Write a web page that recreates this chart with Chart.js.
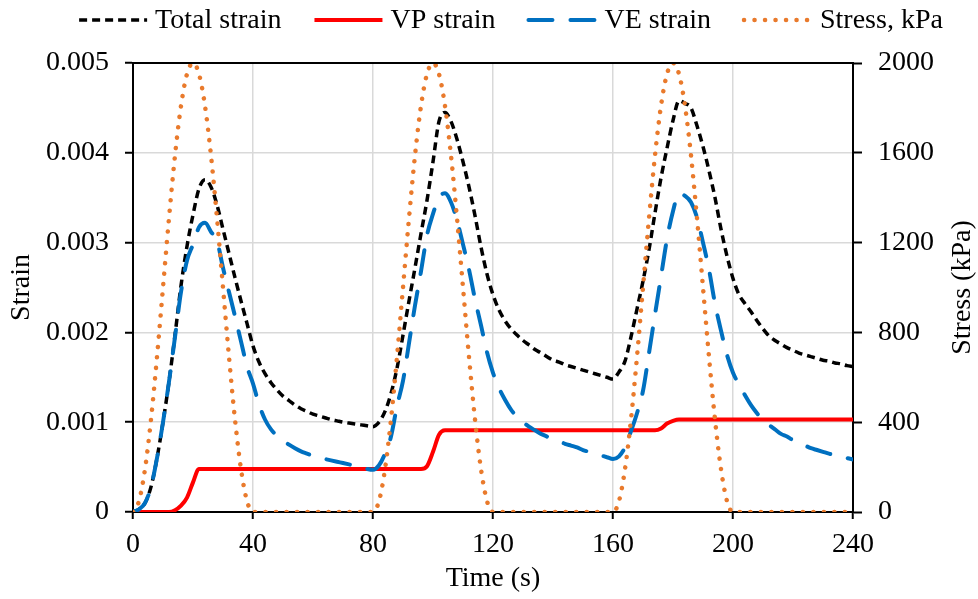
<!DOCTYPE html>
<html lang="en">
<head>
<meta charset="UTF-8">
<title>Strain and stress vs time</title>
<script src="https://cdn.jsdelivr.net/npm/chart.js"></script>
<style>
  html, body { margin: 0; padding: 0; background: #fff; }
  #box { width: 978px; height: 599px; }
</style>
</head>
<body>
<div id="box"><canvas id="grafico"></canvas></div>
<script>
// tempo (s), a cada 2 s
const time = [
  0, 2, 4, 6, 8, 10, 12, 14, 16, 18, 20, 22, 24, 26, 28, 30, 32, 34, 36, 38,
  40, 42, 44, 46, 48, 50, 52, 54, 56, 58, 60, 62, 64, 66, 68, 70, 72, 74, 76, 78,
  80, 82, 84, 86, 88, 90, 92, 94, 96, 98, 100, 102, 104, 106, 108, 110, 112, 114, 116, 118,
  120, 122, 124, 126, 128, 130, 132, 134, 136, 138, 140, 142, 144, 146, 148, 150, 152, 154, 156, 158,
  160, 162, 164, 166, 168, 170, 172, 174, 176, 178, 180, 182, 184, 186, 188, 190, 192, 194, 196, 198,
  200, 202, 204, 206, 208, 210, 212, 214, 216, 218, 220, 222, 224, 226, 228, 230, 232, 234, 236, 238, 240
];

// deformações em milistrain (x 0.001)
const totalStrain = [
  0, 0.03, 0.1, 0.28, 0.6, 1.0, 1.45, 1.97, 2.52, 2.96, 3.31, 3.6, 3.7, 3.62, 3.42, 3.15, 2.88, 2.61, 2.35, 2.1,
  1.85, 1.67, 1.54, 1.44, 1.36, 1.29, 1.24, 1.19, 1.15, 1.12, 1.09, 1.07, 1.05, 1.03, 1.015, 1.0, 0.99, 0.98, 0.97, 0.96,
  0.95, 1.0, 1.12, 1.32, 1.6, 1.97, 2.35, 2.72, 3.1, 3.47, 3.9, 4.35, 4.45, 4.35, 4.15, 3.9, 3.62, 3.3, 2.95, 2.65,
  2.42, 2.25, 2.13, 2.04, 1.97, 1.91, 1.86, 1.81, 1.77, 1.73, 1.69, 1.67, 1.64, 1.62, 1.6, 1.58, 1.56, 1.54, 1.52, 1.5,
  1.48, 1.56, 1.68, 1.95, 2.26, 2.57, 2.92, 3.33, 3.72, 4.05, 4.36, 4.58, 4.55, 4.5, 4.3, 4.07, 3.8, 3.5, 3.15, 2.85,
  2.6, 2.42, 2.32, 2.23, 2.13, 2.04, 1.96, 1.91, 1.87, 1.83, 1.8, 1.77, 1.75, 1.73, 1.71, 1.69, 1.68, 1.66, 1.65, 1.63, 1.62
];

const vpStrain = [
  0, 0, 0, 0, 0, 0, 0, 0.02, 0.07, 0.16, 0.33, 0.48, 0.48, 0.48, 0.48, 0.48, 0.48, 0.48, 0.48, 0.48,
  0.48, 0.48, 0.48, 0.48, 0.48, 0.48, 0.48, 0.48, 0.48, 0.48, 0.48, 0.48, 0.48, 0.48, 0.48, 0.48, 0.48, 0.48, 0.48, 0.48,
  0.48, 0.48, 0.48, 0.48, 0.48, 0.48, 0.48, 0.48, 0.48, 0.51, 0.67, 0.86, 0.91, 0.91, 0.91, 0.91, 0.91, 0.91, 0.91, 0.91,
  0.91, 0.91, 0.91, 0.91, 0.91, 0.91, 0.91, 0.91, 0.91, 0.91, 0.91, 0.91, 0.91, 0.91, 0.91, 0.91, 0.91, 0.91, 0.91, 0.91,
  0.91, 0.91, 0.91, 0.91, 0.91, 0.91, 0.91, 0.91, 0.93, 0.985, 1.015, 1.03, 1.03, 1.03, 1.03, 1.03, 1.03, 1.03, 1.03, 1.03,
  1.03, 1.03, 1.03, 1.03, 1.03, 1.03, 1.03, 1.03, 1.03, 1.03, 1.03, 1.03, 1.03, 1.03, 1.03, 1.03, 1.03, 1.03, 1.03, 1.03, 1.03
];

const veStrain = [
  0, 0.03, 0.1, 0.28, 0.6, 1.0, 1.45, 1.95, 2.45, 2.8, 2.98, 3.17, 3.22, 3.12, 3.02, 2.72, 2.45, 2.18, 1.9, 1.62,
  1.43, 1.2, 1.03, 0.92, 0.85, 0.8, 0.75, 0.71, 0.675, 0.65, 0.625, 0.605, 0.59, 0.575, 0.56, 0.545, 0.53, 0.515, 0.5, 0.48,
  0.47, 0.52, 0.65, 0.84, 1.18, 1.46, 1.88, 2.3, 2.68, 3.08, 3.32, 3.5, 3.55, 3.45, 3.25, 2.98, 2.7, 2.37, 2.08, 1.78,
  1.55, 1.38, 1.25, 1.14, 1.06, 1.0, 0.95, 0.91, 0.87, 0.84, 0.81, 0.79, 0.76, 0.74, 0.72, 0.69, 0.67, 0.65, 0.63, 0.61,
  0.59, 0.62, 0.72, 0.9, 1.1, 1.35, 1.77, 2.2, 2.62, 3.04, 3.35, 3.55, 3.52, 3.45, 3.28, 3.0, 2.7, 2.32, 2.02, 1.75,
  1.55, 1.42, 1.3, 1.19, 1.1, 1.02, 0.97, 0.92, 0.87, 0.84, 0.8, 0.77, 0.74, 0.71, 0.69, 0.67, 0.65, 0.635, 0.62, 0.6, 0.585
];

// tensão (kPa)
const stress = [
  0, 49, 191, 412, 691, 1000, 1309, 1588, 1809, 1951, 2000, 1951, 1809, 1588, 1309, 1000, 691, 412, 191, 49,
  0, 0, 0, 0, 0, 0, 0, 0, 0, 0, 0, 0, 0, 0, 0, 0, 0, 0, 0, 0,
  0, 49, 191, 412, 691, 1000, 1309, 1588, 1809, 1951, 2000, 1951, 1809, 1588, 1309, 1000, 691, 412, 191, 49,
  0, 0, 0, 0, 0, 0, 0, 0, 0, 0, 0, 0, 0, 0, 0, 0, 0, 0, 0, 0,
  0, 49, 191, 412, 691, 1000, 1309, 1588, 1809, 1951, 2000, 1951, 1809, 1588, 1309, 1000, 691, 412, 191, 49,
  0, 0, 0, 0, 0, 0, 0, 0, 0, 0, 0, 0, 0, 0, 0, 0, 0, 0, 0, 0, 0
];

const xTicks = [0, 40, 80, 120, 160, 200, 240];
const strainTicks = [0, 0.001, 0.002, 0.003, 0.004, 0.005];
const stressTicks = [0, 400, 800, 1200, 1600, 2000];

const fonte = '"Liberation Serif", "Times New Roman", serif';
const tamFonte = 28;

function pontos(valores, escala) {
  return time.map((t, i) => ({ x: t, y: valores[i] * escala }));
}

// legenda desenhada à mão, no topo
const legendaTopo = {
  id: 'legendaTopo',
  afterDraw(chart) {
    const ctx = chart.ctx;
    const amostra = 68, folga = 8, espaco = 33, yMeio = 20;
    ctx.save();
    ctx.font = tamFonte + 'px ' + fonte;
    const itens = chart.data.datasets;
    let total = 0;
    itens.forEach((ds, i) => {
      total += amostra + folga + ctx.measureText(ds.label).width;
      if (i < itens.length - 1) total += espaco;
    });
    let x = 511 - total / 2;
    itens.forEach(ds => {
      ctx.strokeStyle = ds.borderColor;
      ctx.lineWidth = ds.borderWidth;
      ctx.lineCap = ds.borderCapStyle || 'butt';
      ctx.setLineDash(ds.borderDash || []);
      ctx.beginPath();
      ctx.moveTo(x, yMeio);
      ctx.lineTo(x + amostra, yMeio);
      ctx.stroke();
      ctx.setLineDash([]);
      x += amostra + folga;
      ctx.fillStyle = '#000';
      ctx.textAlign = 'left';
      ctx.textBaseline = 'middle';
      ctx.fillText(ds.label, x, yMeio + 1);
      x += ctx.measureText(ds.label).width + espaco;
    });
    ctx.restore();
  }
};

// linha de cima da área e título do eixo direito (lido de baixo para cima)
const extras = {
  id: 'extras',
  afterDraw(chart) {
    const ctx = chart.ctx;
    const area = chart.chartArea;
    ctx.save();
    ctx.strokeStyle = '#000';
    ctx.lineWidth = 2;
    ctx.beginPath();
    ctx.moveTo(area.left - 1, area.top);
    ctx.lineTo(area.right + 1, area.top);
    ctx.stroke();

    ctx.translate(963, (area.top + area.bottom) / 2);
    ctx.rotate(-Math.PI / 2);
    ctx.font = tamFonte + 'px ' + fonte;
    ctx.fillStyle = '#000';
    ctx.textAlign = 'center';
    ctx.textBaseline = 'middle';
    ctx.fillText('Stress (kPa)', 0, 0);
    ctx.restore();
  }
};

const ctx = document.getElementById('grafico');

new Chart(ctx, {
  type: 'line',
  data: {
    datasets: [
      {
        label: 'Total strain',
        data: pontos(totalStrain, 0.001),
        yAxisID: 'y',
        borderColor: '#000000',
        borderWidth: 3.5,
        borderDash: [8, 5],
        order: 4
      },
      {
        label: 'VP strain',
        data: pontos(vpStrain, 0.001),
        yAxisID: 'y',
        borderColor: '#ff0000',
        borderWidth: 4,
        order: 3
      },
      {
        label: 'VE strain',
        data: pontos(veStrain, 0.001),
        yAxisID: 'y',
        borderColor: '#0070c0',
        borderWidth: 4,
        borderDash: [24, 18],
        borderCapStyle: 'round',
        order: 2
      },
      {
        label: 'Stress, kPa',
        data: pontos(stress, 1),
        yAxisID: 'y2',
        borderColor: '#e97a2c',
        borderWidth: 4.5,
        borderDash: [0.1, 10.4],
        borderCapStyle: 'round',
        order: 1
      }
    ]
  },
  options: {
    responsive: true,
    maintainAspectRatio: false,
    animation: false,
    devicePixelRatio: 1,
    layout: { padding: { top: 63 } },
    elements: {
      point: { radius: 0 },
      line: { cubicInterpolationMode: 'monotone', fill: false }
    },
    plugins: {
      legend: { display: false },
      tooltip: { enabled: false }
    },
    scales: {
      x: {
        type: 'linear',
        min: 0,
        max: 240,
        afterFit: s => { s.height = 87; },
        afterBuildTicks: s => { s.ticks = xTicks.map(v => ({ value: v })); },
        grid: { color: '#d9d9d9', lineWidth: 1.5, tickColor: '#000', tickLength: 7, tickWidth: 2 },
        border: { color: '#000', width: 2 },
        ticks: { color: '#000', padding: 9, font: { family: fonte, size: tamFonte } },
        title: {
          display: true,
          text: 'Time (s)',
          color: '#000',
          font: { family: fonte, size: tamFonte },
          padding: { top: 0, bottom: 4 }
        }
      },
      y: {
        position: 'left',
        min: 0,
        max: 0.005,
        afterFit: s => { s.width = 133; },
        afterBuildTicks: s => { s.ticks = strainTicks.map(v => ({ value: v })); },
        grid: { color: '#d9d9d9', lineWidth: 1.5, tickColor: '#000', tickLength: 8, tickWidth: 2 },
        border: { color: '#000', width: 2 },
        ticks: {
          color: '#000',
          padding: 16,
          font: { family: fonte, size: tamFonte },
          callback: v => (v === 0 ? '0' : v.toFixed(3))
        },
        title: {
          display: true,
          text: 'Strain',
          color: '#000',
          font: { family: fonte, size: tamFonte },
          padding: { top: 5, bottom: 0 }
        }
      },
      y2: {
        position: 'right',
        min: 0,
        max: 2000,
        afterFit: s => { s.width = 125; },
        afterBuildTicks: s => { s.ticks = stressTicks.map(v => ({ value: v })); },
        grid: { drawOnChartArea: false, tickColor: '#000', tickLength: 9, tickWidth: 2 },
        border: { color: '#000', width: 2 },
        ticks: {
          color: '#000',
          padding: 16,
          font: { family: fonte, size: tamFonte },
          callback: v => String(v)
        }
      }
    }
  },
  plugins: [legendaTopo, extras]
});
</script>
</body>
</html>
